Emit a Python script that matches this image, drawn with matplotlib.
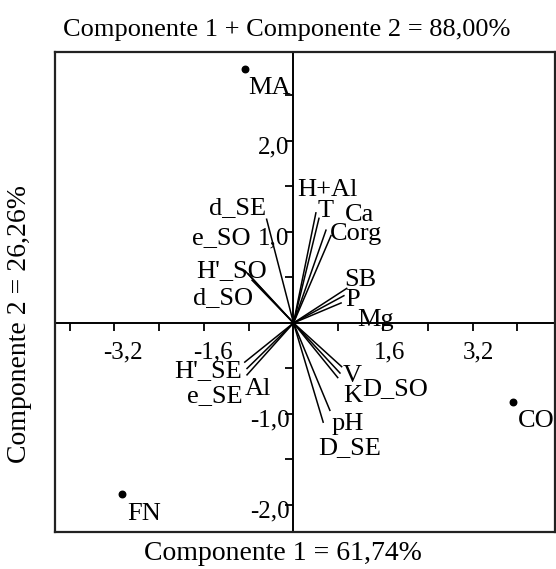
import matplotlib
matplotlib.use("Agg")
import matplotlib.pyplot as plt
import matplotlib.markers as mk

plt.rcParams['font.family'] = ['Liberation Serif', 'DejaVu Serif']

# ---- data ----
sites = ["MA", "CO", "FN"]
site_x = [-0.87, 3.92, -3.06]
site_y = [2.79, -0.87, -1.88]

variables = ["H+Al", "T", "Ca", "Corg", "SB", "P", "Mg",
             "d_SE", "e_SO", "H'_SO", "d_SO",
             "H'_SE", "Al", "e_SE",
             "V", "D_SO", "K", "pH", "D_SE"]
load_x = [0.40, 0.455, 0.58, 0.67, 0.95, 0.90, 0.85,
          -0.48, -0.81, -0.86, -0.74,
          -0.87, -0.83, -0.83,
          0.86, 0.83, 0.79, 0.65, 0.53]
load_y = [1.21, 1.15, 1.02, 0.96, 0.38, 0.30, 0.22,
          1.14, 0.54, 0.57, 0.47,
          -0.43, -0.50, -0.57,
          -0.48, -0.55, -0.60, -0.96, -1.09]

x_ticks = [-4.0, -3.2, -2.4, -1.6, -0.8, 0.8, 1.6, 2.4, 3.2, 4.0]
x_ticklabels = {-3.2: "-3,2", -1.6: "-1,6", 1.6: "1,6", 3.2: "3,2"}
y_ticks = [2.5, 2.0, 1.5, 1.0, 0.5, -0.5, -1.0, -1.5, -2.0]
y_ticklabels = {2.0: "2,0", 1.0: "1,0", -1.0: "-1,0", -2.0: "-2,0"}

title = "Componente 1 + Componente 2 = 88,00%"
xlabel = "Componente 1 = 61,74%"
ylabel = "Componente 2 = 26,26%"

# ---- layout (label offsets in pixels: dx, dy, ha) ----
var_label_off = {
    "H+Al": (-19, 23, "left"), "T": (-1, 7, "left"), "Ca": (19, 15, "left"),
    "Corg": (-1, 2, "left"), "SB": (-2, 8, "left"), "P": (1, -4, "left"),
    "Mg": (16, -17, "left"),
    "d_SE": (0, 11, "right"), "e_SO": (2, 36, "right"), "H'_SO": (22, 0, "right"),
    "d_SO": (1, -18, "right"),
    "H'_SE": (-3, -9, "right"), "Al": (-2, -21, "left"), "e_SE": (-4, -21, "right"),
    "V": (1, -9, "left"), "D_SO": (22, -16, "left"), "K": (5, -18, "left"),
    "pH": (2, -14, "left"), "D_SE": (-5, -26, "left"),
}
site_label_off = {"MA": (3, -19), "CO": (5, -19), "FN": (5, -20)}

FS = 19
TFS = 18
LFS = 20

fig = plt.figure(figsize=(5.56, 5.69), dpi=100)
ax = fig.add_axes([55 / 556, 37 / 569, 500 / 556, 480 / 569])
ax.set_xlim(-4.259, 4.670)
ax.set_ylim(-2.297, 2.978)
ax.set_xticks([])
ax.set_yticks([])
for s in ax.spines.values():
    s.set_linewidth(1.6)
    s.set_color("#222222")

ax.axhline(0, color="black", lw=1.4, zorder=2)
ax.axvline(0, color="black", lw=1.4, zorder=2)

# ticks
ax.plot(x_ticks, [0] * len(x_ticks), ls="none", marker=mk.TICKDOWN,
        markersize=6, markeredgewidth=1.3, color="black", clip_on=False)
ax.plot([0] * len(y_ticks), y_ticks, ls="none", marker=mk.TICKLEFT,
        markersize=6, markeredgewidth=1.3, color="black", clip_on=False)

for v, lab in x_ticklabels.items():
    dx = 9 if v < 0 else 6
    ax.annotate(lab, (v, 0), xytext=(dx, -29), textcoords="offset pixels",
                ha="center", va="center", fontsize=TFS)
for v, lab in y_ticklabels.items():
    ax.annotate(lab, (0, v), xytext=(-4, -6), textcoords="offset pixels",
                ha="right", va="center", fontsize=TFS)

# loading vectors
for name, lx, ly in zip(variables, load_x, load_y):
    ax.plot([0, lx], [0, ly], color="black", lw=1.1, zorder=3)
    dx, dy, ha = var_label_off[name]
    ax.annotate(name, (lx, ly), xytext=(dx, dy), textcoords="offset pixels",
                ha=ha, va="center", fontsize=FS, zorder=4)

# site scores
ax.scatter(site_x, site_y, s=22, color="black", zorder=5)
for name, sx, sy in zip(sites, site_x, site_y):
    dx, dy = site_label_off[name]
    ax.annotate(name, (sx, sy), xytext=(dx, dy), textcoords="offset pixels",
                ha="left", va="center", fontsize=FS, zorder=5)

fig.text(287 / 556, 1 - 30 / 569, title, ha="center", va="center", fontsize=FS)
fig.text(283 / 556, 1 - 553 / 569, xlabel, ha="center", va="center", fontsize=LFS)
fig.text(20 / 556, 1 - 324 / 569, ylabel, ha="center", va="center",
         rotation=90, fontsize=LFS)

fig.savefig("out.png", dpi=100, facecolor="white")
